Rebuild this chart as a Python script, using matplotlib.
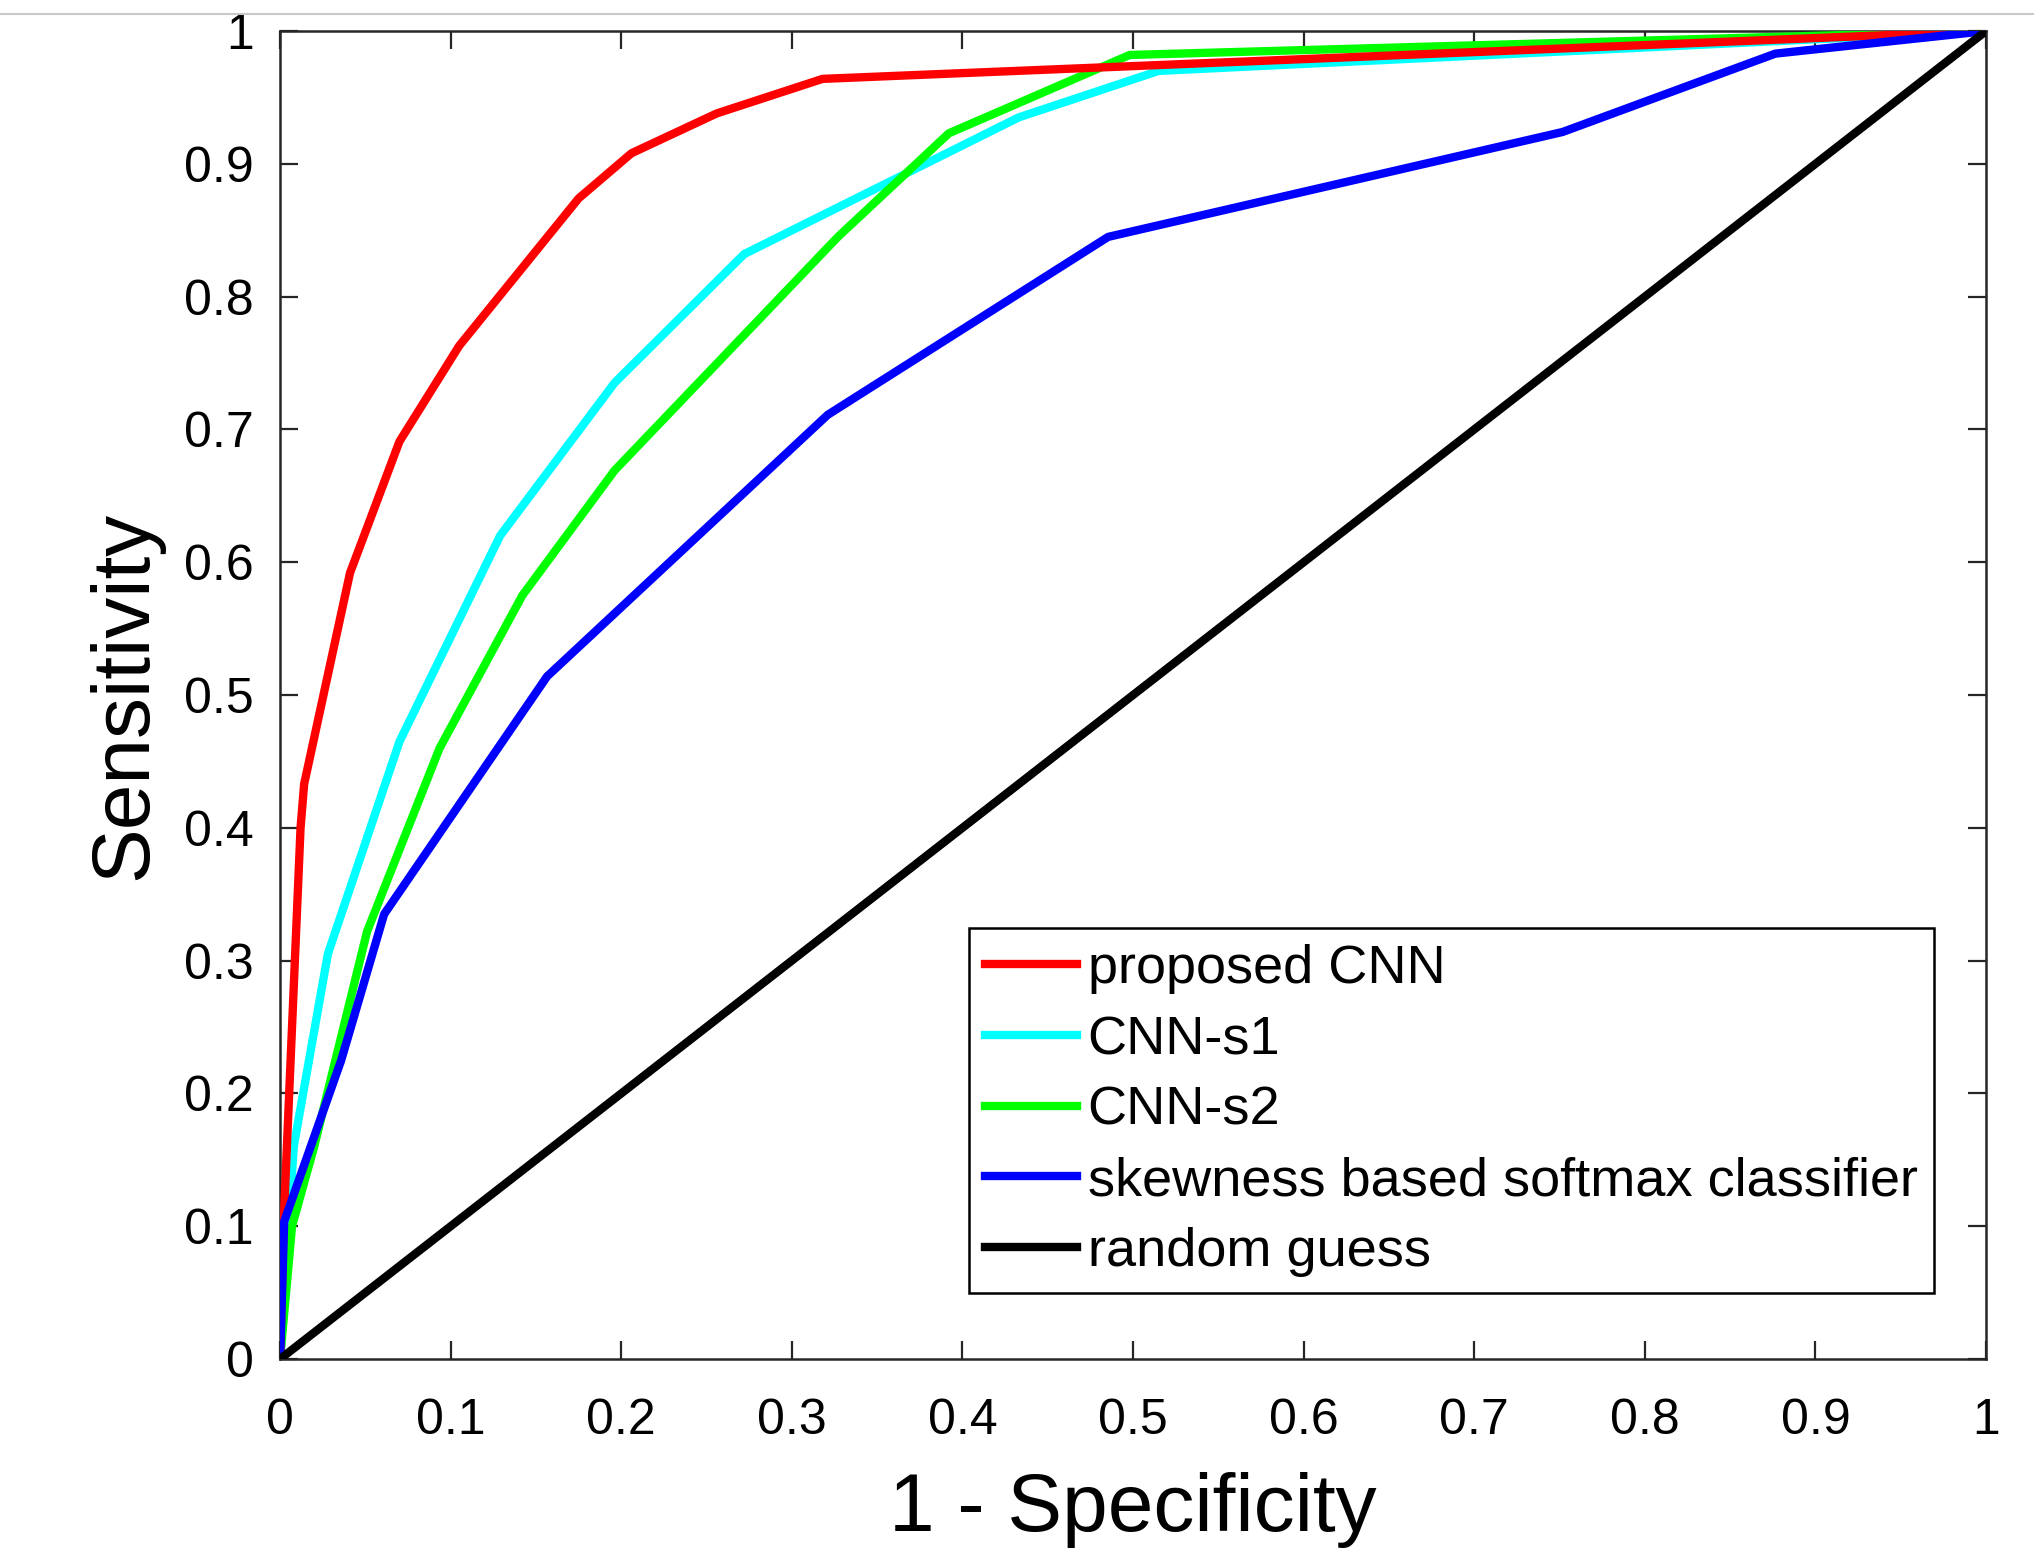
import matplotlib
matplotlib.use("Agg")
import matplotlib.pyplot as plt
from matplotlib.lines import Line2D

plt.rcParams['font.family'] = ['Liberation Sans', 'DejaVu Sans']

# ROC curves
cnn_x = [0, 0.002, 0.012, 0.0141, 0.041, 0.070, 0.105, 0.175, 0.206, 0.256, 0.318, 1.0]
cnn_y = [0, 0.10, 0.40, 0.433, 0.592, 0.691, 0.763, 0.874, 0.908, 0.938, 0.964, 1.0]

s1_x = [0, 0.008, 0.028, 0.070, 0.129, 0.196, 0.272, 0.433, 0.515, 1.0]
s1_y = [0, 0.160, 0.305, 0.465, 0.620, 0.735, 0.832, 0.935, 0.970, 1.0]

s2_x = [0, 0.007, 0.020, 0.051, 0.0935, 0.142, 0.196, 0.327, 0.392, 0.498, 1.0]
s2_y = [0, 0.10, 0.16, 0.322, 0.460, 0.575, 0.669, 0.845, 0.923, 0.982, 1.0]

skew_x = [0, 0.0024, 0.0357, 0.061, 0.1565, 0.321, 0.4854, 0.7518, 0.8765, 1.0]
skew_y = [0, 0.1035, 0.2245, 0.335, 0.514, 0.711, 0.845, 0.924, 0.983, 1.0]

rand_x = [0, 1]
rand_y = [0, 1]

ticks = [0, 0.1, 0.2, 0.3, 0.4, 0.5, 0.6, 0.7, 0.8, 0.9, 1]
tick_labels = ['0', '0.1', '0.2', '0.3', '0.4', '0.5', '0.6', '0.7', '0.8', '0.9', '1']

fig = plt.figure(figsize=(20.34, 15.53), dpi=100)
ax = fig.add_axes([0.1377, 0.1249, 0.8387, 0.8551])

lw = 6
h_cnn, = ax.plot(cnn_x, cnn_y, color='#ff0000', lw=lw, zorder=4, label='proposed CNN')
h_s1, = ax.plot(s1_x, s1_y, color='#00ffff', lw=lw, zorder=2, label='CNN-s1')
h_s2, = ax.plot(s2_x, s2_y, color='#00ff00', lw=lw, zorder=3, label='CNN-s2')
h_skew, = ax.plot(skew_x, skew_y, color='#0000ff', lw=lw, zorder=5, label='skewness based softmax classifier')
h_rand, = ax.plot(rand_x, rand_y, color='black', lw=lw, zorder=6, label='random guess')

ax.set_xlim(0, 1)
ax.set_ylim(0, 1)
ax.set_xticks(ticks)
ax.set_yticks(ticks)
ax.set_xticklabels(tick_labels)
ax.set_yticklabels(tick_labels)

for sp in ax.spines.values():
    sp.set_linewidth(1.8)
    sp.set_color('#262626')

ax.tick_params(direction='in', length=13, width=1.6, colors='#262626',
               top=True, right=True, labelsize=36, labelcolor='black')
ax.tick_params(axis='x', pad=28)
ax.tick_params(axis='y', pad=19)

ax.set_xlabel('1 - Specificity', fontsize=59, labelpad=20)
ax.set_ylabel('Sensitivity', fontsize=59, labelpad=15)

leg = ax.legend(handles=[h_cnn, h_s1, h_s2, h_skew, h_rand],
                loc='lower right', bbox_to_anchor=(0.9695, 0.0497),
                fontsize=39, frameon=True, fancybox=False, framealpha=1,
                edgecolor='black', handlelength=1.7, handletextpad=0.2,
                labelspacing=0.38, borderpad=0.3, borderaxespad=0)
leg.get_frame().set_linewidth(1.8)

# thin grey line across the top of the screenshot
fig.add_artist(Line2D([0, 1], [1 - 14 / 1553, 1 - 14 / 1553], color='#c8c8c8', lw=1.5,
                      transform=fig.transFigure))

fig.savefig('out.png', dpi=100)
